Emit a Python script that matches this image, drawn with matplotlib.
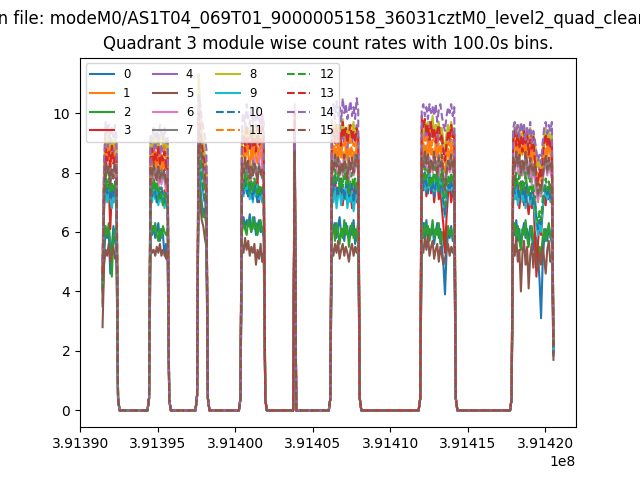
import numpy as np
import matplotlib
matplotlib.use('Agg')
import matplotlib.pyplot as plt

# Quadrant 3 module wise count rates, 100 s bins
evt_file = 'modeM0/AS1T04_069T01_9000005158_36031cztM0_level2_quad_clean.evt'
quadrant = 3
bin_size = 100.0
t_start = 391391430.0
n_bins = 292

# on-source stretches: first bin index and number of bins
seg_start = [0, 31, 62, 90, 124, 148, 206, 265]
seg_len = [10, 12, 6, 15, 1, 18, 22, 27]
# half-filled bins at the edges of each stretch
edge_bins = [10, 30, 43, 61, 68, 89, 105, 147, 166, 205, 228, 264]
edge_vals = [0.4, 0.4, 0.4, 0.5, 0.4, 0.4, 0.4, 0.4, 0.4, 0.4, 0.4, 0.4]

# count rates per module in the on-source bins (segment by segment)
m00 = [3.5, 5.2, 6.1, 5.8, 6.0, 4.6, 5.5, 6.2, 5.7, 5.4,
       6.1, 5.9, 6.2, 5.8, 6.0, 6.3, 5.7, 6.1, 5.9, 5.2, 5.6, 5.0,
       8.5, 7.6, 7.0, 6.6, 6.8, 6.3,
       6.3, 6.5, 6.1, 6.4, 6.2, 6.6, 6.0, 6.3, 6.5, 5.9, 6.2, 6.4, 6.0, 6.1, 5.8,
       7.5,
       6.4, 6.0, 6.3, 5.8, 6.2, 6.5, 5.9, 6.1, 5.7, 6.3, 6.0, 5.8, 6.2, 5.9, 6.4, 5.6, 6.0, 6.2,
       6.0, 6.3, 5.8, 6.4, 5.7, 6.1, 5.9, 6.2, 5.6, 6.0, 6.3, 5.8, 6.1, 5.5, 4.9, 3.9, 5.3, 6.0, 5.8, 6.2, 5.7, 6.0,
       6.2, 5.9, 6.4, 5.7, 6.1, 5.5, 6.0, 6.3, 5.8, 6.1, 5.6, 6.2, 5.9, 5.4, 6.0, 5.7, 5.2, 4.4, 3.1, 4.9, 5.8, 6.1, 5.7, 6.2, 5.9, 5.6, 1.9]
m01 = [4.6, 7.6, 8.9, 8.4, 8.7, 8.1, 8.5, 8.8, 8.2, 8.0,
       8.4, 8.9, 8.2, 8.6, 8.0, 8.7, 8.3, 7.9, 8.5, 8.1, 8.4, 8.0,
       9.6, 9.0, 8.6, 8.2, 7.9, 7.6,
       8.5, 8.8, 8.3, 8.9, 8.6, 8.2, 8.7, 8.4, 9.0, 8.5, 8.3, 8.8, 8.6, 8.4, 8.2,
       9.0,
       8.6, 8.9, 8.4, 8.8, 8.3, 9.0, 8.5, 8.7, 8.2, 8.9, 8.4, 8.6, 8.8, 8.3, 8.7, 8.5, 8.9, 8.6,
       8.7, 9.0, 8.5, 8.9, 8.4, 9.1, 8.6, 8.8, 8.3, 9.0, 8.5, 8.7, 8.9, 8.4, 8.2, 8.0, 8.5, 8.8, 8.4, 8.9, 8.6, 8.7,
       8.8, 9.1, 8.5, 9.0, 8.4, 8.9, 8.6, 9.2, 8.3, 8.8, 8.5, 8.9, 8.2, 8.7, 8.4, 8.0, 7.8, 7.5, 7.2, 7.9, 8.4, 8.8, 8.5, 9.0, 8.6, 8.3, 2.1]
m02 = [4.1, 5.6, 6.2, 5.9, 6.3, 5.6, 4.5, 5.8, 6.1, 5.9,
       5.8, 6.2, 6.0, 6.3, 5.9, 5.7, 6.1, 5.8, 6.2, 6.0, 5.9, 6.1,
       8.3, 7.4, 6.8, 6.5, 6.6, 6.2,
       6.0, 6.3, 6.1, 5.9, 6.4, 6.2, 6.0, 6.5, 6.1, 6.3, 5.9, 6.2, 6.4, 6.0, 6.2,
       7.6,
       5.9, 6.2, 5.7, 6.3, 6.0, 5.6, 6.1, 5.8, 6.4, 5.9, 6.2, 5.5, 6.0, 6.3, 5.8, 6.1, 5.7, 6.4,
       6.1, 5.8, 6.3, 5.9, 6.2, 5.7, 6.0, 6.4, 5.8, 6.1, 5.9, 6.3, 5.6, 6.0, 5.7, 5.4, 5.8, 6.2, 5.9, 6.1, 5.8, 6.0,
       6.0, 6.3, 5.8, 6.2, 5.7, 5.4, 6.1, 5.9, 6.4, 5.8, 5.5, 6.0, 6.2, 5.7, 5.9, 5.3, 5.0, 5.5, 5.2, 5.8, 6.1, 5.7, 6.0, 6.3, 5.8, 6.0, 2.2]
m03 = [3.9, 6.8, 7.8, 7.2, 7.6, 6.1, 7.4, 7.0, 7.5, 6.9,
       7.6, 7.2, 7.8, 7.4, 7.0, 7.5, 7.1, 7.3, 6.9, 7.4, 7.0, 6.8,
       9.2, 8.8, 8.5, 8.0, 7.6, 7.2,
       7.8, 7.4, 8.0, 7.6, 7.2, 7.9, 7.5, 7.1, 7.7, 7.3, 7.8, 7.0, 7.5, 7.3, 7.6,
       9.5,
       7.6, 7.2, 7.9, 7.0, 7.5, 7.3, 7.8, 6.9, 7.4, 7.1, 7.7, 7.2, 7.5, 6.8, 7.3, 7.6, 7.0, 7.4,
       7.8, 7.4, 8.0, 7.2, 7.6, 7.9, 7.3, 7.7, 7.0, 7.5, 7.8, 7.1, 7.4, 6.8, 6.2, 5.3, 6.5, 7.3, 7.6, 7.0, 7.4, 7.2,
       7.4, 7.9, 7.1, 7.6, 6.8, 7.3, 7.7, 6.9, 7.5, 7.0, 6.6, 7.2, 6.8, 7.4, 5.8, 4.5, 5.6, 6.4, 5.9, 6.7, 7.2, 6.9, 7.5, 7.1, 7.6, 7.0, 2.0]
m04 = [4.8, 8.0, 9.2, 8.8, 9.1, 8.5, 8.9, 8.6, 9.0, 8.7,
       8.9, 9.2, 8.6, 9.0, 8.8, 9.3, 8.5, 8.9, 8.7, 9.0, 8.6, 8.8,
       10.2, 9.6, 9.2, 8.8, 8.5, 8.2,
       9.1, 9.4, 8.9, 9.3, 9.0, 9.5, 8.8, 9.2, 9.4, 8.9, 9.1, 9.3, 8.8, 9.0, 9.2,
       9.3,
       9.2, 9.5, 9.0, 9.4, 8.9, 9.6, 9.1, 9.3, 9.0, 9.5, 8.8, 9.2, 9.4, 9.0, 9.3, 9.1, 9.6, 9.2,
       9.3, 9.6, 9.1, 9.5, 9.0, 9.7, 9.2, 9.4, 9.1, 9.6, 8.9, 9.3, 9.5, 9.0, 8.8, 8.6, 9.1, 9.4, 9.0, 9.5, 9.2, 9.3,
       9.2, 9.5, 9.0, 9.4, 8.9, 9.3, 9.1, 9.5, 8.8, 9.2, 9.0, 9.4, 8.7, 9.1, 8.9, 8.5, 8.3, 8.1, 7.9, 8.6, 9.0, 9.3, 8.9, 9.4, 9.1, 8.8, 2.3]
m05 = [2.8, 4.9, 5.4, 5.2, 5.6, 5.0, 5.3, 5.5, 5.1, 5.2,
       5.5, 5.3, 5.4, 5.2, 5.5, 5.3, 5.6, 5.2, 5.4, 5.3, 5.1, 5.4,
       8.0, 7.0, 6.4, 6.2, 5.8, 5.5,
       5.6, 5.3, 5.8, 5.4, 5.7, 5.2, 5.5, 5.3, 5.6, 4.9, 5.4, 5.1, 5.6, 5.0, 5.3,
       7.0,
       5.5, 5.2, 5.6, 5.3, 5.7, 5.1, 5.4, 5.6, 5.2, 5.5, 5.3, 5.0, 5.4, 5.6, 5.2, 5.5, 5.3, 5.6,
       5.6, 5.3, 5.8, 5.4, 5.9, 5.2, 5.5, 5.7, 5.1, 5.4, 5.6, 5.0, 5.5, 5.2, 4.9, 5.1, 5.4, 5.6, 5.2, 5.5, 5.3, 5.6,
       5.6, 5.2, 5.8, 5.0, 5.4, 4.0, 5.3, 5.7, 4.9, 5.5, 4.1, 5.2, 5.6, 4.8, 5.4, 5.0, 4.7, 5.3, 4.9, 5.5, 5.1, 4.6, 5.4, 5.7, 5.0, 5.2, 1.7]
m06 = [4.3, 7.2, 8.6, 8.0, 8.3, 7.7, 8.1, 7.8, 8.2, 7.9,
       8.0, 7.7, 8.2, 7.8, 8.1, 7.5, 7.9, 7.6, 8.0, 7.7, 7.4, 7.8,
       11.0, 10.0, 9.0, 8.4, 8.0, 7.6,
       8.2, 7.9, 8.4, 8.0, 8.3, 7.7, 8.1, 7.9, 8.5, 8.0, 7.8, 8.2, 9.8, 8.1, 7.7,
       10.3,
       8.3, 8.0, 8.5, 8.1, 7.8, 8.4, 8.2, 7.9, 8.6, 8.0, 8.3, 7.7, 8.2, 8.4, 7.9, 8.1, 8.5, 8.0,
       8.4, 8.1, 8.6, 8.2, 7.9, 8.5, 8.3, 8.0, 8.7, 8.1, 8.4, 7.8, 8.3, 8.0, 7.6, 7.2, 7.9, 8.3, 8.0, 8.5, 8.1, 8.2,
       8.3, 8.0, 8.6, 8.1, 7.8, 8.4, 7.9, 8.2, 7.7, 8.5, 7.9, 8.1, 7.6, 8.3, 7.8, 7.3, 7.0, 7.4, 7.2, 7.7, 8.1, 8.4, 7.9, 8.3, 8.0, 7.8, 2.1]
m07 = [4.4, 7.4, 8.3, 8.1, 7.9, 8.2, 7.8, 8.0, 8.4, 7.7,
       8.1, 7.8, 8.3, 7.9, 8.0, 8.2, 7.7, 8.1, 7.8, 8.0, 7.6, 7.9,
       9.5, 8.9, 8.4, 8.0, 7.8, 7.4,
       8.2, 8.0, 8.5, 7.9, 8.3, 8.1, 7.8, 8.4, 8.0, 8.2, 7.9, 8.3, 8.0, 7.8, 8.1,
       9.1,
       8.4, 8.1, 8.6, 8.2, 8.5, 7.9, 8.3, 8.0, 8.4, 8.2, 7.8, 8.5, 8.1, 8.3, 8.0, 8.6, 8.2, 8.4,
       8.5, 8.2, 8.7, 8.3, 8.6, 8.0, 8.4, 8.1, 8.5, 8.3, 7.9, 8.6, 8.2, 8.4, 7.8, 7.5, 8.1, 8.4, 8.2, 8.6, 8.0, 8.3,
       8.4, 8.1, 8.7, 8.2, 8.5, 7.9, 8.3, 8.0, 8.6, 8.2, 7.8, 8.4, 8.1, 7.9, 8.3, 7.6, 7.2, 7.5, 7.3, 7.8, 8.2, 8.5, 8.0, 8.4, 8.1, 8.3, 2.2]
m08 = [4.9, 8.2, 9.5, 9.0, 9.3, 8.8, 9.1, 8.9, 9.2, 9.0,
       9.2, 8.9, 9.4, 9.0, 9.3, 8.8, 9.1, 9.4, 8.9, 9.2, 8.7, 9.0,
       11.3, 10.2, 9.4, 9.0, 8.6, 8.2,
       9.4, 9.1, 9.6, 9.2, 9.5, 9.0, 9.3, 9.7, 9.1, 9.4, 9.2, 9.5, 9.0, 9.3, 9.1,
       9.4,
       9.5, 9.2, 9.7, 9.3, 9.6, 9.1, 9.4, 9.8, 9.2, 9.5, 9.3, 9.6, 9.0, 9.4, 9.7, 9.2, 9.5, 9.3,
       9.6, 9.3, 9.8, 9.4, 9.7, 9.2, 9.5, 9.9, 9.3, 9.6, 9.4, 9.7, 9.1, 9.5, 9.0, 8.8, 9.3, 9.6, 9.2, 9.7, 9.4, 9.5,
       9.4, 9.1, 9.6, 9.2, 9.5, 9.0, 9.3, 9.6, 9.1, 9.4, 9.2, 9.5, 8.9, 9.3, 9.0, 8.6, 8.2, 8.4, 8.0, 8.8, 9.2, 9.5, 9.1, 9.4, 9.0, 9.3, 2.4]
m09 = [4.5, 6.9, 7.6, 7.0, 7.4, 7.1, 6.8, 7.3, 7.0, 7.2,
       7.3, 7.0, 7.5, 7.1, 7.4, 6.9, 7.2, 7.0, 7.3, 6.8, 7.1, 6.9,
       8.9, 8.3, 7.7, 7.3, 7.0, 6.7,
       7.5, 7.2, 7.7, 7.3, 7.6, 7.1, 7.4, 7.0, 7.5, 7.2, 7.6, 7.1, 7.3, 7.0, 7.4,
       8.6,
       7.3, 7.0, 7.5, 6.8, 7.2, 7.4, 6.9, 7.3, 7.1, 7.6, 6.8, 7.2, 7.0, 7.4, 6.7, 7.1, 7.3, 6.9,
       7.6, 7.9, 7.4, 7.8, 7.3, 8.0, 7.5, 7.7, 7.2, 7.9, 7.4, 7.6, 7.8, 7.3, 6.9, 6.5, 7.2, 7.6, 7.4, 7.8, 7.3, 7.5,
       7.4, 7.1, 7.6, 6.9, 7.3, 7.5, 7.0, 7.4, 6.8, 7.2, 7.5, 6.9, 7.3, 7.0, 6.6, 6.2, 5.9, 6.3, 6.0, 6.8, 7.2, 7.5, 7.1, 7.4, 7.0, 7.3, 2.0]
m10 = [4.0, 7.0, 7.8, 7.3, 7.6, 7.1, 7.5, 7.2, 7.7, 7.0,
       7.5, 7.2, 7.6, 7.3, 7.0, 7.4, 7.1, 7.5, 7.2, 7.0, 7.3, 7.1,
       8.8, 8.2, 7.8, 7.4, 7.0, 6.8,
       7.6, 7.3, 7.8, 7.4, 7.2, 7.7, 7.5, 7.1, 7.6, 7.3, 7.0, 7.5, 7.2, 7.4, 7.1,
       8.8,
       7.7, 7.4, 7.9, 7.5, 7.2, 7.8, 7.3, 7.6, 7.1, 7.5, 7.8, 7.2, 7.4, 7.7, 7.0, 7.5, 7.3, 7.6,
       7.8, 7.5, 8.0, 7.6, 7.3, 7.9, 7.4, 7.7, 7.2, 7.6, 7.9, 7.3, 7.5, 7.8, 7.0, 6.6, 7.2, 7.6, 7.4, 7.8, 7.3, 7.6,
       7.6, 7.3, 7.8, 7.4, 7.1, 7.7, 7.2, 7.5, 7.0, 7.6, 7.3, 7.1, 7.5, 6.9, 7.2, 6.5, 6.1, 6.4, 6.2, 6.9, 7.3, 7.6, 7.2, 7.5, 7.1, 7.4, 1.9]
m11 = [4.7, 7.9, 9.0, 8.6, 8.8, 8.3, 8.7, 8.5, 8.9, 8.4,
       8.6, 8.9, 8.3, 8.7, 8.4, 8.8, 8.2, 8.6, 8.5, 8.9, 8.3, 8.5,
       9.9, 9.3, 8.8, 8.5, 8.2, 7.9,
       8.8, 9.1, 8.6, 9.0, 8.7, 9.2, 8.5, 8.9, 8.7, 9.1, 8.6, 8.8, 9.0, 8.5, 8.7,
       9.2,
       8.9, 9.2, 8.7, 9.1, 8.8, 9.3, 8.6, 9.0, 8.9, 9.2, 8.5, 8.9, 9.1, 8.7, 9.0, 8.8, 9.2, 8.6,
       9.0, 9.3, 8.8, 9.2, 8.9, 9.4, 8.7, 9.1, 9.0, 9.3, 8.6, 9.0, 9.2, 8.8, 8.5, 8.3, 8.8, 9.1, 8.9, 9.3, 8.8, 9.0,
       9.0, 9.3, 8.8, 9.2, 8.7, 9.1, 8.9, 9.3, 8.6, 9.0, 8.8, 9.2, 8.5, 8.9, 8.6, 8.2, 7.8, 8.0, 7.7, 8.4, 8.9, 9.2, 8.8, 9.1, 8.7, 9.0, 2.3]
m12 = [4.2, 7.1, 8.0, 7.5, 7.8, 7.3, 7.7, 7.4, 7.6, 7.2,
       7.6, 7.3, 7.8, 7.4, 7.7, 7.1, 7.5, 7.2, 6.9, 7.3, 7.0, 6.8,
       9.0, 8.5, 8.0, 7.7, 7.3, 7.0,
       7.8, 7.5, 8.0, 7.6, 7.9, 7.3, 7.7, 7.4, 7.8, 7.5, 7.2, 7.6, 7.3, 7.5, 7.4,
       8.9,
       7.9, 7.6, 8.1, 7.7, 8.0, 7.4, 7.8, 7.5, 8.2, 7.6, 7.9, 7.3, 7.7, 8.0, 7.5, 7.8, 7.4, 7.9,
       8.0, 7.7, 8.2, 7.8, 8.1, 7.5, 7.9, 7.6, 8.2, 7.7, 8.0, 7.4, 7.8, 8.1, 7.3, 6.9, 7.5, 7.9, 7.6, 8.0, 7.7, 7.9,
       7.8, 7.5, 8.0, 7.6, 7.9, 7.3, 7.7, 7.4, 8.0, 7.5, 7.2, 7.8, 7.4, 7.6, 7.0, 6.6, 6.3, 6.7, 6.4, 7.1, 7.5, 7.8, 7.4, 7.7, 7.3, 7.6, 2.1]
m13 = [4.6, 7.8, 8.8, 8.4, 8.7, 8.2, 8.9, 8.3, 8.6, 8.5,
       8.5, 8.8, 8.3, 8.7, 8.4, 8.9, 8.2, 8.6, 8.4, 8.7, 8.1, 8.5,
       10.0, 9.5, 9.0, 8.6, 8.3, 8.0,
       8.9, 9.3, 8.7, 9.6, 9.0, 8.8, 9.4, 8.9, 9.2, 8.7, 9.5, 8.9, 9.1, 10.0, 9.0,
       10.0,
       9.2, 9.5, 9.0, 9.6, 9.1, 9.4, 8.9, 9.7, 9.2, 9.5, 9.0, 9.3, 9.6, 9.1, 9.4, 9.0, 9.5, 9.2,
       9.9, 9.5, 9.8, 9.3, 9.6, 9.1, 9.7, 9.2, 9.5, 9.0, 9.4, 9.6, 9.1, 9.3, 8.7, 8.4, 9.0, 9.4, 9.1, 9.6, 9.2, 9.4,
       9.1, 9.4, 8.9, 9.3, 8.8, 9.2, 8.7, 9.4, 9.0, 9.3, 8.6, 9.1, 8.8, 9.2, 8.4, 7.9, 7.6, 8.1, 7.8, 8.5, 9.0, 9.3, 8.9, 9.2, 8.8, 9.1, 2.2]
m14 = [5.0, 8.4, 9.7, 9.3, 9.6, 9.0, 9.5, 9.2, 9.6, 9.1,
       9.3, 9.1, 9.5, 9.2, 9.4, 9.0, 9.6, 9.3, 9.1, 9.5, 9.0, 9.2,
       10.6, 10.3, 9.8, 9.5, 9.2, 8.8,
       9.7, 10.0, 9.5, 10.3, 9.8, 9.6, 10.1, 9.7, 9.9, 9.5, 10.2, 9.8, 9.6, 9.9, 9.7,
       9.4,
       10.0, 10.3, 9.8, 10.4, 9.9, 10.2, 9.7, 10.5, 10.0, 10.3, 9.8, 10.1, 10.4, 9.9, 10.2, 9.8, 10.5, 10.1,
       10.1, 10.3, 9.9, 10.2, 9.8, 10.3, 10.0, 10.2, 9.9, 10.3, 9.7, 10.1, 10.3, 9.9, 9.6, 9.4, 9.9, 10.2, 10.0, 10.3, 9.9, 10.2,
       9.5, 9.7, 9.3, 9.6, 9.2, 9.7, 9.4, 9.6, 9.1, 9.5, 9.3, 9.7, 9.0, 9.4, 9.1, 8.7, 8.4, 8.6, 8.3, 9.0, 9.5, 9.7, 9.3, 9.6, 9.4, 9.7, 2.4]
m15 = [3.6, 7.3, 8.4, 8.0, 8.2, 7.6, 8.1, 7.8, 8.3, 7.9,
       8.1, 7.9, 8.3, 8.0, 7.7, 8.2, 7.8, 8.0, 7.9, 8.1, 7.6, 7.8,
       9.4, 9.0, 8.6, 8.2, 7.9, 7.5,
       8.3, 8.0, 8.5, 8.1, 8.4, 7.8, 8.2, 7.9, 8.3, 8.0, 7.7, 8.2, 7.9, 8.1, 7.8,
       8.7,
       8.4, 8.1, 8.6, 8.2, 8.5, 7.9, 8.3, 8.0, 8.6, 8.2, 7.8, 8.4, 8.1, 8.5, 8.0, 8.3, 8.6, 8.2,
       8.5, 8.2, 8.7, 8.3, 8.6, 8.0, 8.4, 8.1, 8.7, 8.3, 7.9, 8.5, 8.2, 8.6, 7.8, 7.4, 8.0, 8.4, 8.1, 8.6, 8.2, 8.4,
       8.5, 8.2, 8.7, 8.3, 8.6, 8.0, 8.4, 8.1, 8.7, 8.3, 7.9, 8.5, 8.2, 8.0, 8.3, 7.7, 7.3, 7.6, 7.4, 7.9, 8.3, 8.6, 8.1, 8.5, 8.2, 8.4, 1.8]

modules = [m00, m01, m02, m03, m04, m05, m06, m07,
           m08, m09, m10, m11, m12, m13, m14, m15]

times = t_start + bin_size * np.arange(n_bins)


def build_rate(on_vals):
    # put the on-source rates into the full time series, zero elsewhere
    assert len(on_vals) == sum(seg_len), len(on_vals)
    rate = np.zeros(n_bins)
    pos = 0
    for s, n in zip(seg_start, seg_len):
        rate[s:s + n] = on_vals[pos:pos + n]
        pos += n
    rate[edge_bins] = edge_vals
    return rate


fig = plt.figure(figsize=(6.4, 4.8), dpi=100)
plt.suptitle('Given file: ' + evt_file)
for i, vals in enumerate(modules):
    ls = '-' if i < 10 else '--'
    plt.plot(times, build_rate(vals), ls, label=str(i))
plt.title('Quadrant %d module wise count rates with %.1fs bins.' % (quadrant, bin_size))
plt.legend(loc='upper left', ncol=4, fontsize='small')
plt.savefig('out.png')
